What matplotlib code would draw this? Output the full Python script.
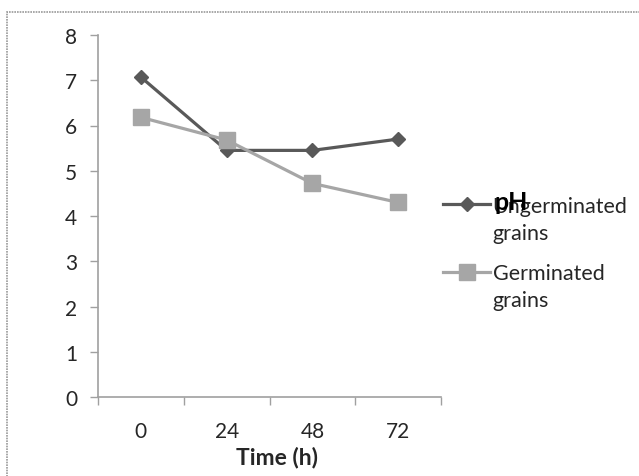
import matplotlib
matplotlib.use("Agg")
import matplotlib.pyplot as plt
from matplotlib.patches import Rectangle

plt.rcParams['font.family'] = ['Lato', 'DejaVu Sans']

times = ["0", "24", "48", "72"]
ungerminated = [7.07, 5.45, 5.45, 5.70]
germinated = [6.18, 5.68, 4.72, 4.30]
yticks = [0, 1, 2, 3, 4, 5, 6, 7, 8]
series_first = ["Ungerminated", "Germinated"]
series_second = ["grains", "grains"]

dark = "#595959"
light = "#a6a6a6"
axis_col = "#a0a0a0"
text_col = "#262626"

fig = plt.figure(figsize=(6.39, 4.77), dpi=100)
fig.patches.append(Rectangle((7/639, -0.1), 1.2, 1 - 13/477 + 0.1, transform=fig.transFigure,
                             fill=False, edgecolor="#9a9a9a", linewidth=1.2, linestyle=(0, (1, 0.6))))
ax = fig.add_axes([98/639, 1 - 398/477, (441 - 98)/639, (398 - 36)/477])

x = list(range(len(times)))
ax.plot(x, ungerminated, color=dark, linewidth=2.3, marker='D', markersize=7,
        label=series_first[0], zorder=3)
ax.plot(x, germinated, color=light, linewidth=2.3, marker='s', markersize=11,
        label=series_first[1], zorder=4)

ax.set_xlim(-0.5, 3.5)
ax.set_ylim(0, 8)
ax.set_yticks(yticks)
ax.set_yticklabels([str(v) for v in yticks])
ax.set_xticks(x)
ax.set_xticklabels(times)
ax.set_xticks([-0.5, 0.5, 1.5, 2.5, 3.5], minor=True)
ax.tick_params(axis='x', which='major', length=0, pad=17, labelsize=15, labelcolor=text_col)
ax.tick_params(axis='x', which='minor', length=6, color=axis_col, width=1)
ax.tick_params(axis='y', which='major', length=6, color=axis_col, width=1, pad=9,
               labelsize=15, labelcolor=text_col)
for s in ['top', 'right']:
    ax.spines[s].set_visible(False)
for s in ['left', 'bottom']:
    ax.spines[s].set_color(axis_col)
    ax.spines[s].set_linewidth(1.2)

fig.text(277/639, 1 - 458/477, "Time (h)", ha='center', va='center', fontsize=16.5,
         fontweight='bold', color=text_col)

leg = ax.legend(loc='upper left', bbox_to_anchor=(443/639, 1 - 197/477),
                bbox_transform=fig.transFigure, frameon=False, fontsize=15.5,
                handlelength=2.2, handletextpad=0.1, labelspacing=2.2, borderpad=0,
                borderaxespad=0)
fig.canvas.draw()
for t, extra in zip(leg.get_texts(), series_second):
    t.set_color(text_col)
    bb = t.get_window_extent()
    fig.text(bb.x0 / fig.bbox.width, (bb.y0 - 27 + (bb.height / 2)) / fig.bbox.height,
             extra, ha='left', va='center', fontsize=15.5, color=text_col)

fig.text(511/639, 1 - 202/477, "pH", ha='center', va='center', fontsize=18,
         fontweight='bold', color="#000000")

fig.savefig("out.png", dpi=100)
